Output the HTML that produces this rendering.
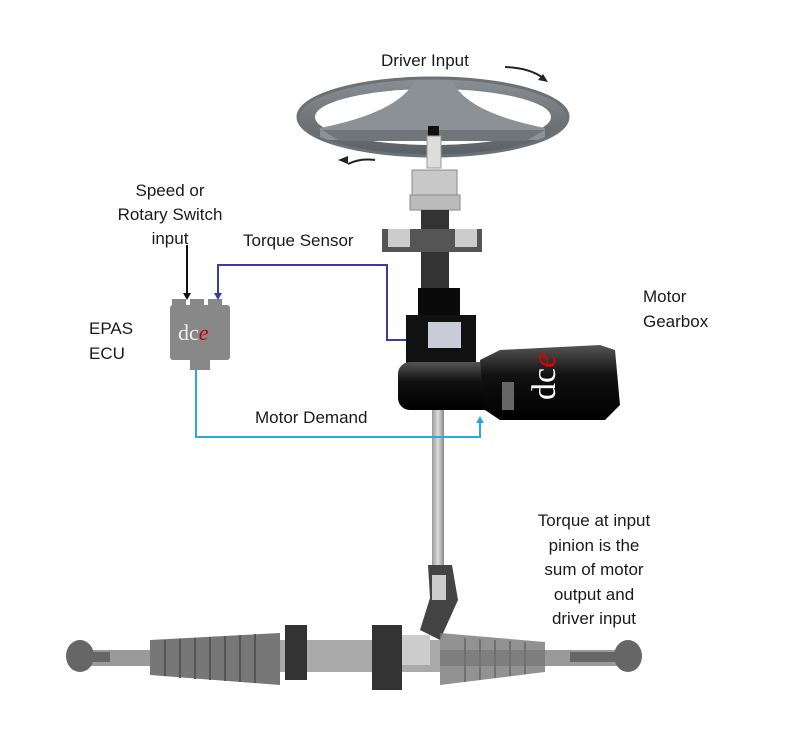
<!DOCTYPE html>
<html><head><meta charset="utf-8"><style>
html,body{margin:0;padding:0;background:#fff;}
svg{display:block;}
text{font-family:"Liberation Sans",sans-serif;font-size:17px;fill:#1a1a1a;}
</style></head><body>
<svg width="798" height="756" viewBox="0 0 798 756" xmlns="http://www.w3.org/2000/svg">
<defs>
<linearGradient id="gm" x1="0" y1="0" x2="0" y2="1"><stop offset="0" stop-color="#555"/><stop offset=".4" stop-color="#111"/><stop offset="1" stop-color="#000"/></linearGradient>
<linearGradient id="gs" x1="0" y1="0" x2="1" y2="0"><stop offset="0" stop-color="#999"/><stop offset=".5" stop-color="#ddd"/><stop offset="1" stop-color="#888"/></linearGradient>
<linearGradient id="gw" x1="0" y1="0" x2="0" y2="1"><stop offset="0" stop-color="#8a8f94"/><stop offset="1" stop-color="#5a5f64"/></linearGradient>
</defs>
<!-- steering wheel -->
<ellipse cx="433" cy="117" rx="135" ry="39" fill="url(#gw)"/>
<ellipse cx="433" cy="117" rx="118" ry="28" fill="#fff"/>
<path d="M320,128 Q400,112 415,80 L452,80 Q465,112 545,128 L545,140 L320,140z" fill="#8c9196"/>
<path d="M322,130 L340,141 L526,141 L545,130z" fill="#70757a"/>
<ellipse cx="433" cy="117" rx="135" ry="39" fill="none" stroke="#6c7176" stroke-width="3"/>
<rect x="428" y="126" width="11" height="10" fill="#111"/>
<rect x="427" y="136" width="14" height="32" fill="#ddd" stroke="#999"/>
<path d="M348,164 Q360,158 375,160" stroke="#222" stroke-width="2" fill="none"/><path d="M338,160 l10,-4 l0,8z" fill="#222"/>
<path d="M505,67 Q530,68 543,78" stroke="#222" stroke-width="2" fill="none"/><path d="M548,82 l-10,-2 l5,-6z" fill="#222"/>
<!-- coupler -->
<rect x="412" y="170" width="45" height="28" fill="#c8c8c8" stroke="#888"/>
<rect x="410" y="195" width="50" height="15" fill="#bbb" stroke="#888"/>
<!-- column -->
<rect x="421" y="210" width="28" height="80" fill="#333"/>
<rect x="382" y="229" width="100" height="23" fill="#555"/>
<rect x="388" y="229" width="22" height="18" fill="#ccc"/><rect x="455" y="229" width="22" height="18" fill="#ccc"/>
<!-- torque sensor block -->
<rect x="418" y="288" width="42" height="36" fill="#0a0a0a"/>
<rect x="406" y="315" width="70" height="48" fill="#111"/>
<rect x="428" y="322" width="33" height="26" fill="#c9ccd6"/>
<!-- shaft -->
<rect x="432" y="405" width="12" height="160" fill="url(#gs)"/>
<!-- gearbox + motor -->
<rect x="398" y="362" width="100" height="48" rx="12" fill="url(#gm)"/>
<path d="M480,360 L500,350 L600,345 L615,350 L620,405 L605,420 L500,420 L485,410z" fill="url(#gm)"/>
<rect x="502" y="382" width="12" height="28" fill="#666"/>
<text x="555" y="400" transform="rotate(-90 555 400)" style="font-family:'Liberation Serif',serif;font-size:34px;fill:#fff">dc<tspan style="fill:#d00;font-style:italic">e</tspan></text>
<!-- ECU -->
<rect x="170" y="305" width="60" height="55" rx="3" fill="#888"/>
<rect x="172" y="299" width="14" height="8" fill="#888"/><rect x="190" y="299" width="14" height="8" fill="#888"/><rect x="208" y="299" width="14" height="8" fill="#888"/>
<rect x="190" y="358" width="20" height="12" fill="#888"/>
<text x="178" y="340" style="font-family:'Liberation Serif',serif;font-size:22px;fill:#eee">dc<tspan style="fill:#c00;font-style:italic">e</tspan></text>
<!-- connectors -->
<path d="M406,340 H387 V265 H218 V294" stroke="#3a3aa8" stroke-width="2" fill="none"/><path d="M214,293 l8,0 l-4,7z" fill="#3a3aa8"/>
<path d="M187,245 V294" stroke="#111" stroke-width="2" fill="none"/><path d="M183,293 l8,0 l-4,7z" fill="#111"/>
<path d="M196,370 V437 H480 V422" stroke="#2aa8e0" stroke-width="2" fill="none"/><path d="M476,423 l8,0 l-4,-7z" fill="#2aa8e0"/>
<!-- lower joint -->
<path d="M428,565 L452,565 L458,600 L440,640 L420,630 L430,598z" fill="#444"/>
<rect x="432" y="575" width="14" height="25" fill="#ccc"/>
<!-- rack -->
<rect x="90" y="650" width="540" height="16" fill="#9a9a9a"/>
<path d="M150,640 L280,633 L280,685 L150,675z" fill="#777"/>
<g stroke="#555" stroke-width="2">
<line x1="165" y1="640" x2="165" y2="676"/><line x1="180" y1="639" x2="180" y2="678"/><line x1="195" y1="638" x2="195" y2="679"/><line x1="210" y1="637" x2="210" y2="680"/><line x1="225" y1="636" x2="225" y2="681"/><line x1="240" y1="635" x2="240" y2="682"/><line x1="255" y1="634" x2="255" y2="683"/>
<line x1="465" y1="638" x2="465" y2="682"/><line x1="480" y1="639" x2="480" y2="680"/><line x1="495" y1="640" x2="495" y2="678"/><line x1="510" y1="641" x2="510" y2="676"/><line x1="525" y1="642" x2="525" y2="674"/>
</g>
<path d="M440,633 L545,642 L545,672 L440,685z" fill="#777" opacity=".8"/>
<rect x="280" y="640" width="160" height="32" fill="#aaa"/>
<rect x="285" y="625" width="22" height="55" fill="#333"/>
<rect x="372" y="625" width="30" height="65" fill="#333"/>
<rect x="402" y="635" width="28" height="30" fill="#ccc"/>
<ellipse cx="80" cy="656" rx="14" ry="16" fill="#666"/><rect x="90" y="652" width="20" height="10" fill="#666"/>
<ellipse cx="628" cy="656" rx="14" ry="16" fill="#666"/><rect x="570" y="652" width="50" height="10" fill="#666"/>
<!-- labels -->
<text x="381" y="66">Driver Input</text>
<text x="170" y="196" text-anchor="middle">Speed or</text>
<text x="170" y="220" text-anchor="middle">Rotary Switch</text>
<text x="170" y="244" text-anchor="middle">input</text>
<text x="243" y="246">Torque Sensor</text>
<text x="89" y="334">EPAS</text>
<text x="89" y="359">ECU</text>
<text x="643" y="302">Motor</text>
<text x="643" y="327">Gearbox</text>
<text x="255" y="423">Motor Demand</text>
<text x="594" y="526" text-anchor="middle">Torque at input</text>
<text x="594" y="551" text-anchor="middle">pinion is the</text>
<text x="594" y="575" text-anchor="middle">sum of motor</text>
<text x="594" y="600" text-anchor="middle">output and</text>
<text x="594" y="624" text-anchor="middle">driver input</text>
</svg>
</body></html>
